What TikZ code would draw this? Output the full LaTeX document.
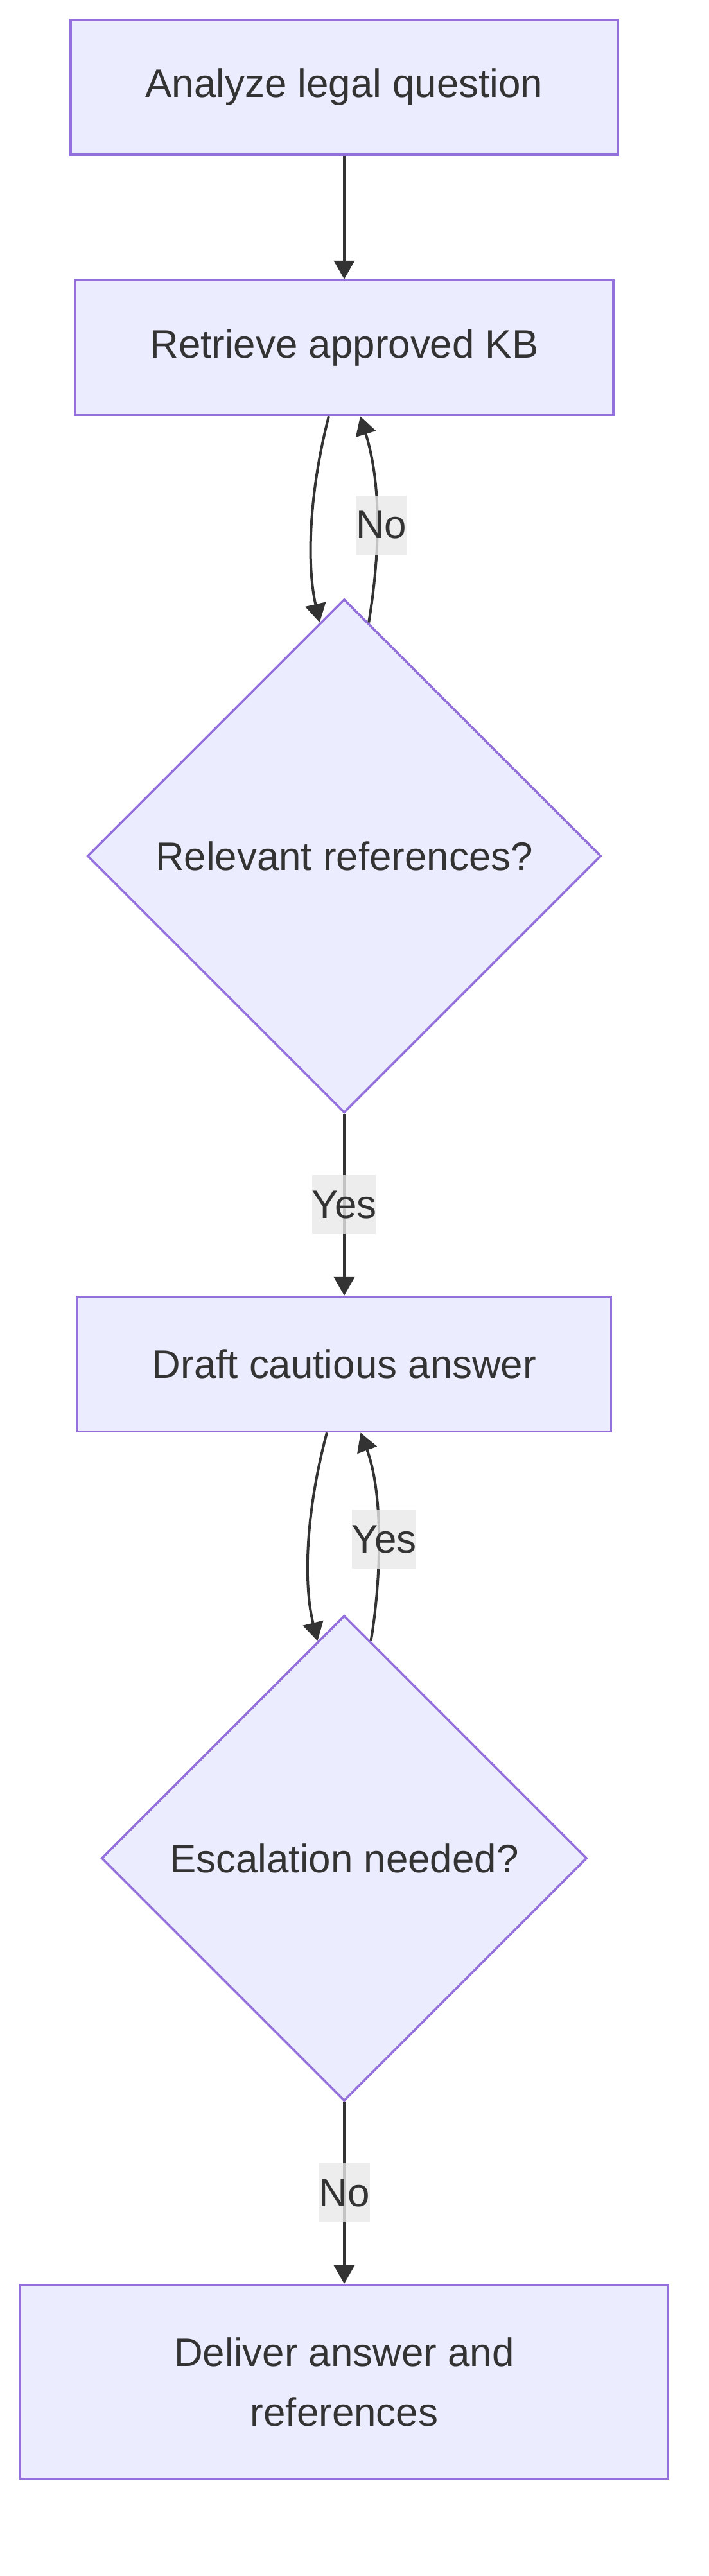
\documentclass[tikz,border=0pt]{standalone}
\usepackage{fontspec}
\setmainfont{Liberation Sans}
\usepackage{xcolor}
\usepackage{tikz}
\usetikzlibrary{arrows.meta, positioning, shapes.geometric}
\definecolor{nodefill}{HTML}{ECECFF}
\definecolor{nodeline}{HTML}{9370DB}
\definecolor{inkgray}{HTML}{333333}
\definecolor{labelgray}{HTML}{E8E8E8}

\begin{document}
\begin{tikzpicture}[
  node distance=2.83cm,
  every node/.style={text=inkgray, font=\fontsize{17.6}{26.4}\selectfont},
  box/.style={rectangle, draw=nodeline, fill=nodefill, line width=1pt, align=center, inner xsep=1.165cm, inner ysep=0pt, minimum height=2.10cm},
  decision/.style={diamond, aspect=1, draw=nodeline, fill=nodefill, line width=1pt, align=center, inner sep=0pt},
  arrow/.style={-{Triangle[length=0.29cm, width=0.32cm]}, line width=0.04cm, draw=inkgray},
  edgelabel/.style={fill=labelgray, fill opacity=0.8, text opacity=1, inner xsep=0pt, inner ysep=0pt, minimum height=0.92cm}
]
\useasboundingbox (-5.36,1.36) rectangle (5.68,-38.76);

\node[box] (analyze) {Analyze legal question};
\node[box, below=1.92cm of analyze] (retrieve) {Retrieve approved KB};
\node[decision, below=of retrieve, minimum width=8.0cm, minimum height=8.0cm] (relevant) {Relevant references?};
\node[box, below=of relevant] (draft) {Draft cautious answer};
\node[decision, below=of draft, minimum width=7.56cm, minimum height=7.56cm] (escalate) {Escalation needed?};
\node[box, below=of escalate, minimum width=10.09cm, minimum height=3.02cm] (deliver) {Deliver answer and\\references};

\draw[arrow] (analyze) -- (retrieve);
\draw[arrow] ([xshift=-0.24cm]retrieve.south) .. controls +(-0.30,-1.15) and +(-0.21,0.92) .. (relevant.96);
\draw[arrow] (relevant.84) .. controls +(0.15,0.91) and +(0.36,-1.15) .. node[edgelabel, pos=0.5, xshift=0.07cm]{No} ([xshift=0.25cm]retrieve.south);
\draw[arrow] (relevant) -- node[edgelabel]{Yes} (draft);
\draw[arrow] ([xshift=-0.27cm]draft.south) .. controls +(-0.32,-1.19) and +(-0.23,0.92) .. (escalate.97.5);
\draw[arrow] (escalate.83) .. controls +(0.15,0.89) and +(0.37,-0.99) .. node[edgelabel, pos=0.5, xshift=0.09cm]{Yes} ([xshift=0.255cm]draft.south);
\draw[arrow] (escalate) -- node[edgelabel]{No} (deliver);
\end{tikzpicture}
\end{document}
